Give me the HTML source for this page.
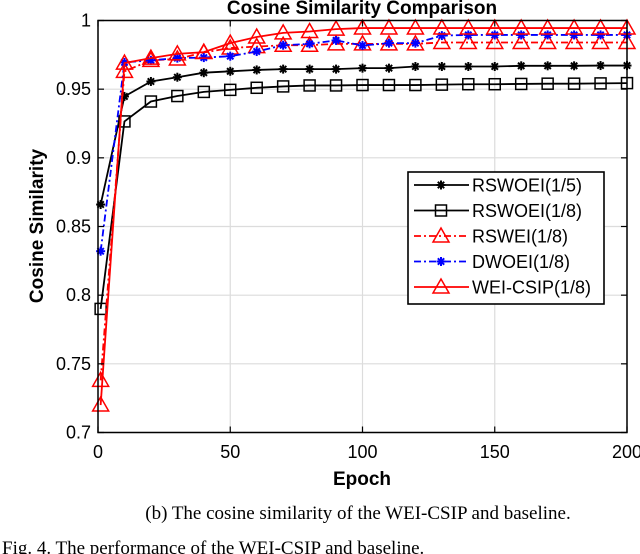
<!DOCTYPE html>
<html><head><meta charset="utf-8"><style>
body{margin:0;background:#fff;width:640px;height:554px;overflow:hidden}
svg{display:block}
</style></head><body>
<svg id="chart" width="640" height="554" xmlns="http://www.w3.org/2000/svg">
<g id="grid"></g>
<g id="series"></g>
<rect x="98" y="20.5" width="529" height="412" fill="none" stroke="#000" stroke-width="1.5"/>
<g id="ticks"></g>
<text x="362" y="14" text-anchor="middle" font-family="Liberation Sans, sans-serif" font-weight="bold" font-size="19">Cosine Similarity Comparison</text>
<text x="362" y="485" text-anchor="middle" font-family="Liberation Sans, sans-serif" font-weight="bold" font-size="19">Epoch</text>
<text transform="translate(43,226) rotate(-90)" text-anchor="middle" font-family="Liberation Sans, sans-serif" font-weight="bold" font-size="19">Cosine Similarity</text>
<g id="legend"></g>
<text x="358" y="519" text-anchor="middle" font-family="Liberation Serif, serif" font-size="19">(b) The cosine similarity of the WEI-CSIP and baseline.</text>
<text x="2" y="554" font-family="Liberation Serif, serif" font-size="19">Fig. 4.  The performance of the WEI-CSIP and baseline.</text>
</svg>
<script>
const epochs=[1,10,20,30,40,50,60,70,80,90,100,110,120,130,140,150,160,170,180,190,200];
const rswoei15=[0.866,0.9447,0.9556,0.9587,0.962,0.963,0.964,0.9646,0.9646,0.9646,0.9653,0.9653,0.9665,0.9665,0.9665,0.9665,0.967,0.967,0.967,0.9672,0.9672];
const rswoei18=[0.79,0.9265,0.941,0.945,0.948,0.9495,0.951,0.952,0.9527,0.9527,0.953,0.953,0.953,0.9533,0.9536,0.9536,0.9538,0.954,0.954,0.9542,0.9544];
const rswei18=[0.738,0.963,0.971,0.972,0.9767,0.98,0.981,0.982,0.982,0.983,0.983,0.983,0.983,0.984,0.984,0.984,0.984,0.984,0.984,0.984,0.984];
const dwoei18=[0.832,0.9695,0.971,0.9726,0.973,0.974,0.9774,0.982,0.983,0.9855,0.9818,0.9835,0.9835,0.989,0.9895,0.9895,0.9895,0.9895,0.9895,0.9895,0.9895];
const weicsip=[0.72,0.969,0.9726,0.9757,0.977,0.9835,0.988,0.991,0.992,0.9937,0.9945,0.9945,0.9945,0.9945,0.9945,0.9945,0.9945,0.9945,0.9945,0.9945,0.9945];
const xTicks=[0,50,100,150,200];
const yTicks=[0.7,0.75,0.8,0.85,0.9,0.95,1];
const yTickLabels=["0.7","0.75","0.8","0.85","0.9","0.95","1"];
const legendLabels=["RSWOEI(1/5)","RSWOEI(1/8)","RSWEI(1/8)","DWOEI(1/8)","WEI-CSIP(1/8)"];

const X0=98,X1=627,Y0=432.5,Y1=20.5;
const xs=v=>X0+(v-0)/(200-0)*(X1-X0);
const ys=v=>Y0-(v-0.7)/(1-0.7)*(Y0-Y1);
const NS="http://www.w3.org/2000/svg";
function mk(tag,attrs,parent){const e=document.createElementNS(NS,tag);for(const k in attrs)e.setAttribute(k,attrs[k]);parent.appendChild(e);return e;}
const grid=document.getElementById('grid'),ticks=document.getElementById('ticks'),ser=document.getElementById('series'),leg=document.getElementById('legend');
xTicks.forEach(t=>{
  const l=mk('line',{x1:xs(t),x2:xs(t),y1:Y1,y2:Y0,stroke:'#dcdcdc','stroke-width':1.2},grid);
  
  
  mk('line',{x1:xs(t),x2:xs(t),y1:Y0,y2:Y0-6,stroke:'#000','stroke-width':1.2},ticks);
  mk('line',{x1:xs(t),x2:xs(t),y1:Y1,y2:Y1+6,stroke:'#000','stroke-width':1.2},ticks);
  const tx=mk('text',{x:xs(t),y:458,'text-anchor':'middle','font-family':'Liberation Sans, sans-serif','font-size':18},ticks);
  tx.textContent=t;
  
  
});
yTicks.forEach((t,i)=>{
  const l=mk('line',{x1:X0,x2:X1,y1:ys(t),y2:ys(t),stroke:'#dcdcdc','stroke-width':1.2},grid);
  
  
  mk('line',{x1:X0,x2:X0+6,y1:ys(t),y2:ys(t),stroke:'#000','stroke-width':1.2},ticks);
  mk('line',{x1:X1,x2:X1-6,y1:ys(t),y2:ys(t),stroke:'#000','stroke-width':1.2},ticks);
  const tx=mk('text',{x:91,y:ys(t)+6,'text-anchor':'end','font-family':'Liberation Sans, sans-serif','font-size':18},ticks);
  tx.textContent=yTickLabels[i];
  
  
});
function marker(type,x,y,color,g){
  if(type==='star'){
    for(let a=0;a<4;a++){const an=a*Math.PI/4;mk('line',{x1:x-4.5*Math.cos(an),y1:y-4.5*Math.sin(an),x2:x+4.5*Math.cos(an),y2:y+4.5*Math.sin(an),stroke:color,'stroke-width':2},g);}
  }else if(type==='square'){
    mk('rect',{x:x-5.5,y:y-5.5,width:11,height:11,fill:'none',stroke:color,'stroke-width':1.5},g);
  }else{
    mk('polygon',{points:`${x},${y-8} ${x-8},${y+6} ${x+8},${y+6}`,fill:'none',stroke:color,'stroke-width':1.5},g);
  }
}
const defs=[
 {d:rswoei15,c:'#000',dash:'',m:'star',n:'series-rswoei-1-5'},
 {d:rswoei18,c:'#000',dash:'',m:'square',n:'series-rswoei-1-8'},
 {d:rswei18,c:'#f00',dash:'7 3 2 3',m:'tri',n:'series-rswei-1-8'},
 {d:dwoei18,c:'#00f',dash:'7 3 2 3',m:'star',n:'series-dwoei-1-8'},
 {d:weicsip,c:'#f00',dash:'',m:'tri',n:'series-wei-csip-1-8'}
];
defs.forEach((s,si)=>{
  const g=mk('g',{},ser);
  
  
  const pts=epochs.map((e,i)=>xs(e)+','+ys(s.d[i])).join(' ');
  mk('polyline',{points:pts,fill:'none',stroke:s.c,'stroke-width':1.8,'stroke-dasharray':s.dash},g);
  epochs.forEach((e,i)=>marker(s.m,xs(e),ys(s.d[i]),s.c,g));
  const ly=185+si*25.5;
  const lg=mk('g',{},leg);
  
  
  mk('line',{x1:414,x2:469,y1:ly,y2:ly,stroke:s.c,'stroke-width':1.8,'stroke-dasharray':s.dash},lg);
  marker(s.m,441,ly,s.c,lg);
  const t=mk('text',{x:472,y:ly+6.5,'font-family':'Liberation Sans, sans-serif','font-size':18},lg);
  t.textContent=legendLabels[si];
});
const box=mk('rect',{x:408,y:172,width:196,height:132,fill:'none',stroke:'#000','stroke-width':1.6},leg);
leg.insertBefore(box,leg.firstChild);
const bg=mk('rect',{x:408,y:172,width:196,height:132,fill:'#fff'},leg);
leg.insertBefore(bg,leg.firstChild);
</script>
</body></html>
